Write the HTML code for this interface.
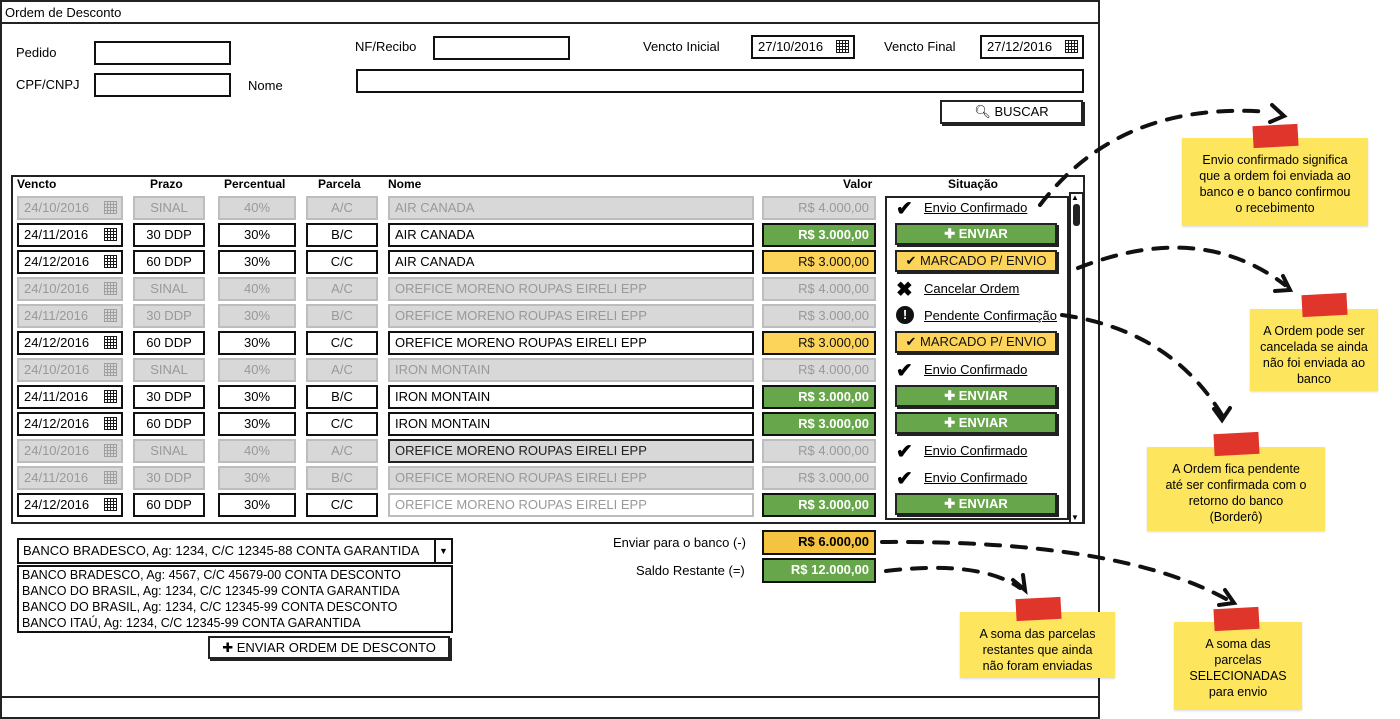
<!DOCTYPE html>
<html><head><meta charset="utf-8"><style>
*{box-sizing:border-box;margin:0;padding:0}
body{width:1400px;height:719px;position:relative;background:#fff;font-family:"Liberation Sans",sans-serif;font-size:13px;color:#000;overflow:hidden}
.a{position:absolute}
.in{position:absolute;border:2px solid #111;background:#fff;height:24px;line-height:20px;font-size:13px;white-space:nowrap;overflow:hidden}
.d{background:#d8d8d8;border:2px solid #bdbdbd;color:#999}
.c{text-align:center}
.r{text-align:right;padding-right:5px}
.l{padding-left:5px}
.lbl{position:absolute;font-size:13px}
.th{position:absolute;top:177px;font-weight:bold;font-size:12px}
.g{background:#67a64a;color:#fff;font-weight:bold;border-color:#111}
.y{background:#fcd45a;color:#111;border-color:#111}
.btn{position:absolute;left:895px;width:162px;height:22px;border:2px solid #222;box-shadow:2px 2px 0 #222;text-align:center;line-height:18px;font-size:13px}
.st{position:absolute;left:896px;font-size:13px}
.st u{margin-left:28px}
.ic{position:absolute;left:0;top:-4px;font-weight:bold;font-size:20px}
.cal{position:absolute;right:4px;top:3px;width:13px;height:13px;border:1.5px solid currentColor;background:repeating-linear-gradient(90deg,transparent 0 2px,currentColor 2px 3px),repeating-linear-gradient(0deg,transparent 0 2px,currentColor 2px 3px);opacity:.9}
.note{position:absolute;background:#fde65e;font-size:12.5px;text-align:center;line-height:16px;padding-top:14px;box-shadow:0 1px 2px rgba(0,0,0,.15)}
.tape{position:absolute;background:#e0352b;width:45px;height:22px;transform:rotate(-3deg)}
</style></head><body>
<div class="a" style="left:0;top:0;width:1100px;height:719px;border:2px solid #222"></div>
<div class="a" style="left:0;top:22px;width:1100px;border-top:2px solid #222"></div>
<div class="a" style="left:0;top:696px;width:1100px;border-top:2px solid #222"></div>
<div class="lbl" style="left:5px;top:5px">Ordem de Desconto</div>

<div class="lbl" style="left:16px;top:45px">Pedido</div>
<div class="in" style="left:94px;top:41px;width:137px"></div>
<div class="lbl" style="left:16px;top:77px">CPF/CNPJ</div>
<div class="in" style="left:94px;top:73px;width:137px"></div>
<div class="lbl" style="left:248px;top:78px">Nome</div>
<div class="in" style="left:356px;top:69px;width:728px"></div>
<div class="lbl" style="left:355px;top:39px">NF/Recibo</div>
<div class="in" style="left:433px;top:36px;width:137px"></div>
<div class="lbl" style="left:643px;top:39px">Vencto Inicial</div>
<div class="in l" style="left:751px;top:35px;width:104px">27/10/2016<span class="cal"></span></div>
<div class="lbl" style="left:884px;top:39px">Vencto Final</div>
<div class="in l" style="left:980px;top:35px;width:104px">27/12/2016<span class="cal"></span></div>
<div class="a" style="left:940px;top:100px;width:143px;height:24px;border:2px solid #222;box-shadow:2px 2px 0 #222;text-align:center;line-height:20px">&#x1F50D;&#xFE0E; BUSCAR</div>

<div class="a" style="left:11px;top:175px;width:1074px;height:349px;border:2px solid #222"></div>
<div class="th" style="left:17px">Vencto</div>
<div class="th" style="left:150px">Prazo</div>
<div class="th" style="left:224px">Percentual</div>
<div class="th" style="left:318px">Parcela</div>
<div class="th" style="left:388px">Nome</div>
<div class="th" style="left:843px">Valor</div>
<div class="th" style="left:948px">Situação</div>
<div class="a" style="left:885px;top:196px;width:184px;height:324px;border:2px solid #222"></div>
<div class="a" style="left:1069px;top:192px;width:15px;height:332px;border:2px solid #222;background:#fff"></div>
<div class="a" style="left:1073px;top:204px;width:7px;height:22px;background:#222;border-radius:3px"></div>
<div class="a" style="left:1071px;top:193px;font-size:8px">▲</div>
<div class="a" style="left:1071px;top:513px;font-size:8px">▼</div>

<div class="in d l" style="left:17px;top:196px;width:106px">24/10/2016<span class="cal"></span></div>
<div class="in d c" style="left:133px;top:196px;width:72px">SINAL</div>
<div class="in d c" style="left:218px;top:196px;width:78px">40%</div>
<div class="in d c" style="left:306px;top:196px;width:72px">A/C</div>
<div class="in d l" style="left:388px;top:196px;width:366px">AIR CANADA</div>
<div class="in d r" style="left:762px;top:196px;width:114px">R$ 4.000,00</div>
<div class="in l" style="left:17px;top:223px;width:106px">24/11/2016<span class="cal"></span></div>
<div class="in c" style="left:133px;top:223px;width:72px">30 DDP</div>
<div class="in c" style="left:218px;top:223px;width:78px">30%</div>
<div class="in c" style="left:306px;top:223px;width:72px">B/C</div>
<div class="in l" style="left:388px;top:223px;width:366px">AIR CANADA</div>
<div class="in g r" style="left:762px;top:223px;width:114px">R$ 3.000,00</div>
<div class="in l" style="left:17px;top:250px;width:106px">24/12/2016<span class="cal"></span></div>
<div class="in c" style="left:133px;top:250px;width:72px">60 DDP</div>
<div class="in c" style="left:218px;top:250px;width:78px">30%</div>
<div class="in c" style="left:306px;top:250px;width:72px">C/C</div>
<div class="in l" style="left:388px;top:250px;width:366px">AIR CANADA</div>
<div class="in y r" style="left:762px;top:250px;width:114px">R$ 3.000,00</div>
<div class="in d l" style="left:17px;top:277px;width:106px">24/10/2016<span class="cal"></span></div>
<div class="in d c" style="left:133px;top:277px;width:72px">SINAL</div>
<div class="in d c" style="left:218px;top:277px;width:78px">40%</div>
<div class="in d c" style="left:306px;top:277px;width:72px">A/C</div>
<div class="in d l" style="left:388px;top:277px;width:366px">OREFICE MORENO ROUPAS EIRELI EPP</div>
<div class="in d r" style="left:762px;top:277px;width:114px">R$ 4.000,00</div>
<div class="in d l" style="left:17px;top:304px;width:106px">24/11/2016<span class="cal"></span></div>
<div class="in d c" style="left:133px;top:304px;width:72px">30 DDP</div>
<div class="in d c" style="left:218px;top:304px;width:78px">30%</div>
<div class="in d c" style="left:306px;top:304px;width:72px">B/C</div>
<div class="in d l" style="left:388px;top:304px;width:366px">OREFICE MORENO ROUPAS EIRELI EPP</div>
<div class="in d r" style="left:762px;top:304px;width:114px">R$ 3.000,00</div>
<div class="in l" style="left:17px;top:331px;width:106px">24/12/2016<span class="cal"></span></div>
<div class="in c" style="left:133px;top:331px;width:72px">60 DDP</div>
<div class="in c" style="left:218px;top:331px;width:78px">30%</div>
<div class="in c" style="left:306px;top:331px;width:72px">C/C</div>
<div class="in l" style="left:388px;top:331px;width:366px">OREFICE MORENO ROUPAS EIRELI EPP</div>
<div class="in y r" style="left:762px;top:331px;width:114px">R$ 3.000,00</div>
<div class="in d l" style="left:17px;top:358px;width:106px">24/10/2016<span class="cal"></span></div>
<div class="in d c" style="left:133px;top:358px;width:72px">SINAL</div>
<div class="in d c" style="left:218px;top:358px;width:78px">40%</div>
<div class="in d c" style="left:306px;top:358px;width:72px">A/C</div>
<div class="in d l" style="left:388px;top:358px;width:366px">IRON MONTAIN</div>
<div class="in d r" style="left:762px;top:358px;width:114px">R$ 4.000,00</div>
<div class="in l" style="left:17px;top:385px;width:106px">24/11/2016<span class="cal"></span></div>
<div class="in c" style="left:133px;top:385px;width:72px">30 DDP</div>
<div class="in c" style="left:218px;top:385px;width:78px">30%</div>
<div class="in c" style="left:306px;top:385px;width:72px">B/C</div>
<div class="in l" style="left:388px;top:385px;width:366px">IRON MONTAIN</div>
<div class="in g r" style="left:762px;top:385px;width:114px">R$ 3.000,00</div>
<div class="in l" style="left:17px;top:412px;width:106px">24/12/2016<span class="cal"></span></div>
<div class="in c" style="left:133px;top:412px;width:72px">60 DDP</div>
<div class="in c" style="left:218px;top:412px;width:78px">30%</div>
<div class="in c" style="left:306px;top:412px;width:72px">C/C</div>
<div class="in l" style="left:388px;top:412px;width:366px">IRON MONTAIN</div>
<div class="in g r" style="left:762px;top:412px;width:114px">R$ 3.000,00</div>
<div class="in d l" style="left:17px;top:439px;width:106px">24/10/2016<span class="cal"></span></div>
<div class="in d c" style="left:133px;top:439px;width:72px">SINAL</div>
<div class="in d c" style="left:218px;top:439px;width:78px">40%</div>
<div class="in d c" style="left:306px;top:439px;width:72px">A/C</div>
<div class="in d l" style="left:388px;top:439px;width:366px;border-color:#222;color:#222">OREFICE MORENO ROUPAS EIRELI EPP</div>
<div class="in d r" style="left:762px;top:439px;width:114px">R$ 4.000,00</div>
<div class="in d l" style="left:17px;top:466px;width:106px">24/11/2016<span class="cal"></span></div>
<div class="in d c" style="left:133px;top:466px;width:72px">30 DDP</div>
<div class="in d c" style="left:218px;top:466px;width:78px">30%</div>
<div class="in d c" style="left:306px;top:466px;width:72px">B/C</div>
<div class="in d l" style="left:388px;top:466px;width:366px">OREFICE MORENO ROUPAS EIRELI EPP</div>
<div class="in d r" style="left:762px;top:466px;width:114px">R$ 3.000,00</div>
<div class="in l" style="left:17px;top:493px;width:106px">24/12/2016<span class="cal"></span></div>
<div class="in c" style="left:133px;top:493px;width:72px">60 DDP</div>
<div class="in c" style="left:218px;top:493px;width:78px">30%</div>
<div class="in c" style="left:306px;top:493px;width:72px">C/C</div>
<div class="in d l" style="left:388px;top:493px;width:366px;background:#fff">OREFICE MORENO ROUPAS EIRELI EPP</div>
<div class="in g r" style="left:762px;top:493px;width:114px">R$ 3.000,00</div>

<div class="st" style="top:200px"><span class="ic">✔</span><u>Envio Confirmado</u></div>
<div class="btn g" style="top:223px">✚ ENVIAR</div>
<div class="btn y" style="top:250px">✔ MARCADO P/ ENVIO</div>
<div class="st" style="top:281px"><span class="ic">✖</span><u>Cancelar Ordem</u></div>
<div class="st" style="top:308px"><span class="ic" style="background:#111;color:#fff;border-radius:50%;width:18px;height:18px;font-size:13px;text-align:center;line-height:18px;top:-2px">!</span><u>Pendente Confirmação</u></div>
<div class="btn y" style="top:331px">✔ MARCADO P/ ENVIO</div>
<div class="st" style="top:362px"><span class="ic">✔</span><u>Envio Confirmado</u></div>
<div class="btn g" style="top:385px">✚ ENVIAR</div>
<div class="btn g" style="top:412px">✚ ENVIAR</div>
<div class="st" style="top:443px"><span class="ic">✔</span><u>Envio Confirmado</u></div>
<div class="st" style="top:470px"><span class="ic">✔</span><u>Envio Confirmado</u></div>
<div class="btn g" style="top:493px">✚ ENVIAR</div>

<div class="in" style="left:17px;top:538px;width:436px;height:26px;padding-left:4px;line-height:22px">BANCO BRADESCO, Ag: 1234, C/C 12345-88 CONTA GARANTIDA</div>
<div class="a" style="left:434px;top:538px;width:19px;height:26px;border:2px solid #111;text-align:center;font-size:9px;line-height:22px">▼</div>
<div class="a" style="left:17px;top:565px;width:436px;height:68px;border:2px solid #111;padding:0 3px;line-height:16px;font-size:12.5px">BANCO BRADESCO, Ag: 4567, C/C 45679-00 CONTA DESCONTO<br>BANCO DO BRASIL, Ag: 1234, C/C 12345-99 CONTA GARANTIDA<br>BANCO DO BRASIL, Ag: 1234, C/C 12345-99 CONTA DESCONTO<br>BANCO ITAÚ, Ag: 1234, C/C 12345-99 CONTA GARANTIDA</div>
<div class="a" style="left:208px;top:636px;width:242px;height:23px;border:2px solid #222;box-shadow:2px 2px 0 #222;text-align:center;line-height:19px">✚ ENVIAR ORDEM DE DESCONTO</div>
<div class="lbl" style="left:613px;top:535px">Enviar para o banco (-)</div>
<div class="lbl" style="left:636px;top:563px">Saldo Restante (=)</div>
<div class="in r" style="left:762px;top:530px;width:114px;height:25px;background:#f5c342;font-weight:bold">R$ 6.000,00</div>
<div class="in g r" style="left:762px;top:558px;width:114px;height:25px">R$ 12.000,00</div>

<div class="note" style="left:1182px;top:138px;width:186px;height:88px">Envio confirmado significa<br>que a ordem foi enviada ao<br>banco e o banco confirmou<br>o recebimento</div>
<div class="tape" style="left:1253px;top:125px"></div>
<div class="note" style="left:1250px;top:309px;width:128px;height:82px">A Ordem pode ser<br>cancelada se ainda<br>não foi enviada ao<br>banco</div>
<div class="tape" style="left:1302px;top:294px"></div>
<div class="note" style="left:1147px;top:447px;width:178px;height:84px">A Ordem fica pendente<br>até ser confirmada com o<br>retorno do banco<br>(Borderô)</div>
<div class="tape" style="left:1214px;top:433px"></div>
<div class="note" style="left:960px;top:612px;width:155px;height:66px">A soma das parcelas<br>restantes que ainda<br>não foram enviadas</div>
<div class="tape" style="left:1016px;top:598px"></div>
<div class="note" style="left:1174px;top:622px;width:128px;height:88px">A soma das<br>parcelas<br>SELECIONADAS<br>para envio</div>
<div class="tape" style="left:1214px;top:608px"></div>

<svg class="a" style="left:0;top:0" width="1400" height="719">
<g fill="none" stroke="#111" stroke-width="4" stroke-dasharray="14 12" stroke-linecap="round">
<path d="M1040,205 Q1120,100 1270,112"/>
<path d="M1078,268 Q1200,220 1285,285"/>
<path d="M1062,315 Q1170,330 1222,415"/>
<path d="M882,542 Q1120,540 1228,600"/>
<path d="M886,571 Q980,560 1020,588"/>
</g>
<g fill="none" stroke="#111" stroke-width="4" stroke-linecap="round">
<path d="M1272,105 L1284,116 L1270,122"/>
<path d="M1283,276 L1290,290 L1275,291"/>
<path d="M1214,409 L1222,420 L1230,408"/>
<path d="M1225,590 L1234,603 L1219,605"/>
<path d="M1013,580 L1025,590 L1023,575"/>
</g>
</svg>
</body></html>
